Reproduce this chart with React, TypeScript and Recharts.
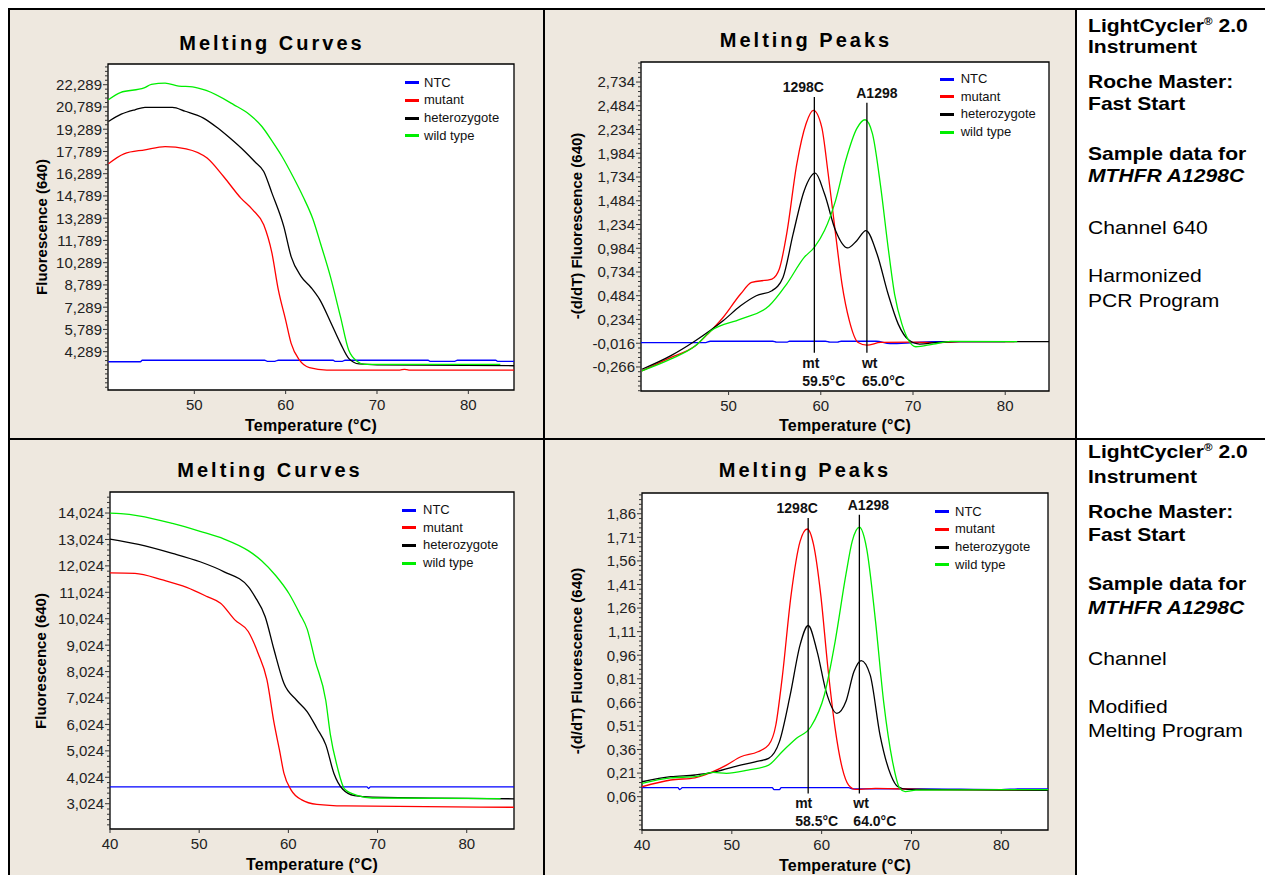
import React from "react";
import {
  LineChart,
  Line,
  XAxis,
  YAxis,
  CartesianGrid,
  ReferenceArea,
  ReferenceLine,
} from "recharts";

type Pt = [number, number];

const FONT = "'Liberation Sans', Arial, Helvetica, sans-serif";
const BEIGE = "#eee8df";

const seriesNames = ["NTC", "mutant", "heterozygote", "wild type"];
const seriesColors = ["#0000ff", "#ff0000", "#000000", "#00ee00"];

// row 1 - harmonized PCR program, melting curves: [temperature, fluorescence]
const hpCurveNtc: Pt[] = [
  [40.6, 3.61], [44.1, 3.61], [44.3, 3.71], [57.7, 3.71], [58, 3.64], [58.8, 3.64],
  [59.2, 3.71], [65.2, 3.71], [65.4, 3.64], [66.2, 3.64], [66.5, 3.71], [75.6, 3.71],
  [75.8, 3.64], [78.5, 3.64], [78.8, 3.71], [83, 3.71], [83.2, 3.64], [85, 3.64],
];
const hpCurveMut: Pt[] = [
  [40.6, 16.96], [42.3, 17.63], [44.6, 17.9], [46.8, 18.12], [49.1, 17.97], [51.4, 17.34],
  [53.2, 16.1], [55.1, 14.64], [56.4, 13.85], [57.6, 12.84], [58.5, 10.93], [59.2, 8.45],
  [60.0, 6.42], [60.6, 4.85], [61.5, 3.73], [62.6, 3.21], [64.5, 3.05], [72.5, 3.05],
  [73, 3.1], [73.5, 3.05], [85, 3.05],
];
const hpCurveHet: Pt[] = [
  [40.6, 19.81], [42, 20.3], [43.5, 20.6], [44.6, 20.76], [47.6, 20.76], [49, 20.5],
  [51, 20.04], [52.5, 19.4], [53.9, 18.69], [55.5, 17.8], [56.6, 17.11], [57.6, 16.44],
  [58.5, 14.98], [59.8, 12.72], [60.6, 10.7], [61.7, 9.35], [62.8, 8.6], [63.75, 7.78],
  [64.9, 6.31], [66.0, 4.85], [66.9, 3.84], [68.05, 3.46], [70, 3.4], [85, 3.34],
];
const hpCurveWt: Pt[] = [
  [40.6, 21.28], [41.9, 21.76], [44.5, 22.07], [45.3, 22.31], [46.8, 22.4], [48.3, 22.2],
  [49.8, 22.15], [51.3, 21.9], [54.3, 20.95], [56, 20.3], [57.4, 19.47], [58.5, 18.5],
  [59.6, 17.45], [60.8, 16.1], [61.9, 14.75], [63, 13.2], [63.8, 11.62], [64.9, 9.35],
  [66.0, 6.65], [66.9, 4.4], [67.9, 3.61], [68.6, 3.43], [75, 3.43], [83.5, 3.43],
];

// row 1 - melting peaks: [temperature, -(d/dT) fluorescence]
const hpPeakNtc: Pt[] = [
  [40.5, -0.01], [47.5, -0.01], [48, 0.005], [54.8, 0.005], [55.2, -0.005], [56.3, -0.005],
  [56.6, 0.005], [60.5, 0.005], [61, -0.005], [61.8, -0.005], [62.2, 0.005], [66, 0.005],
  [67.5, -0.02], [70, -0.01], [72, 0], [80, 0],
];
const hpPeakMut: Pt[] = [
  [40.6, -0.307], [43.7, -0.167], [46.4, -0.043], [47.9, 0.097], [49.4, 0.255], [51.3, 0.502],
  [52.5, 0.624], [54.7, 0.66], [55.5, 0.766], [56.3, 1.135], [57.4, 1.873], [58.4, 2.295],
  [59.2, 2.435], [60.1, 2.26], [60.8, 1.768], [61.6, 1.135], [62.3, 0.607], [63.1, 0.22],
  [64.05, -0.008], [65.0, -0.036], [66.5, -0.008], [70, -0.005], [73, -0.01], [75, 0], [81, 0],
];
const hpPeakHet: Pt[] = [
  [40.6, -0.29], [43.7, -0.149], [46.4, 0.01], [49.4, 0.22], [51.3, 0.378], [53.0, 0.484],
  [54.7, 0.537], [55.9, 0.677], [57.0, 1.135], [58.2, 1.59], [59.4, 1.774], [60.4, 1.557],
  [61.6, 1.17], [62.9, 0.987], [63.9, 1.064], [64.9, 1.17], [66.1, 0.924], [67.3, 0.502],
  [68.4, 0.185], [69.55, 0.017], [70.7, -0.025], [72.6, -0.008], [75, 0], [84.75, 0],
];
const hpPeakWt: Pt[] = [
  [40.6, -0.307], [43.7, -0.184], [46.4, -0.043], [48.1, 0.115], [51.3, 0.237], [54.4, 0.378],
  [56.3, 0.607], [58.2, 0.888], [59.3, 0.994], [60.4, 1.17], [61.6, 1.486], [62.7, 1.908],
  [63.9, 2.243], [64.8, 2.337], [65.6, 2.19], [66.5, 1.627], [67.3, 0.994], [68.0, 0.502],
  [68.8, 0.185], [69.55, 0.01], [70.3, -0.053], [72.2, -0.025], [74.1, 0.003], [81.3, 0],
];

// row 2 - modified melting program, melting curves
const mmCurveNtc: Pt[] = [[40, 3.66], [68.8, 3.66], [69, 3.6], [69.2, 3.66], [85.3, 3.66]];
const mmCurveMut: Pt[] = [
  [40, 11.76], [42.8, 11.74], [45.9, 11.49], [48.6, 11.21], [50.9, 10.86], [52.4, 10.61],
  [54.0, 9.98], [55.5, 9.54], [56.6, 8.72], [57.6, 7.71], [58.4, 6.07], [59.0, 5.06],
  [59.5, 4.18], [60.3, 3.55], [61.5, 3.17], [63.2, 3.0], [66.3, 2.94], [85.3, 2.89],
];
const mmCurveHet: Pt[] = [
  [40, 13.04], [43.2, 12.84], [47.0, 12.5], [50.1, 12.18], [52.8, 11.8], [55.5, 11.24],
  [56.25, 10.86], [57.4, 10.1], [58.4, 8.84], [59.5, 7.58], [60.9, 6.95], [62.1, 6.51],
  [63.2, 5.88], [64.2, 5.25], [65.1, 4.18], [66.1, 3.57], [67.4, 3.33], [69.4, 3.27], [85.3, 3.21],
];
const mmCurveWt: Pt[] = [
  [40, 14.02], [41.2, 14.0], [43.2, 13.92], [47.0, 13.63], [50.1, 13.33], [52.8, 13.04],
  [55.5, 12.6], [57.0, 12.22], [58.6, 11.65], [60.1, 10.96], [61.3, 10.2], [62.1, 9.64],
  [63.0, 8.44], [64.2, 6.92], [64.7, 5.66], [65.5, 4.4], [66.3, 3.58], [67.8, 3.33],
  [69.4, 3.24], [83.8, 3.22],
];

// row 2 - melting peaks
const mmPeakNtc: Pt[] = [
  [40, 0.117], [44, 0.117], [44.2, 0.105], [44.5, 0.117], [54.5, 0.117], [54.7, 0.105],
  [55.3, 0.105], [55.5, 0.117], [63, 0.117], [63.5, 0.11], [71, 0.11], [80, 0.105],
  [82, 0.11], [85.2, 0.11],
];
const mmPeakMut: Pt[] = [
  [40, 0.123], [43.2, 0.166], [45.9, 0.18], [47.9, 0.219], [49.4, 0.261], [51.0, 0.314],
  [52.9, 0.346], [54.1, 0.389], [54.9, 0.516], [55.6, 0.813], [56.6, 1.344], [57.6, 1.684],
  [58.4, 1.763], [59.1, 1.663], [59.9, 1.344], [60.7, 0.877], [61.5, 0.495], [62.3, 0.24],
  [63.0, 0.134], [63.8, 0.106], [66, 0.113], [72, 0.105], [85.2, 0.1],
];
const mmPeakHet: Pt[] = [
  [40, 0.155], [43.2, 0.187], [45.9, 0.198], [47.9, 0.214], [50.2, 0.25], [52.6, 0.282],
  [54.1, 0.304], [55.3, 0.41], [56.5, 0.707], [57.6, 1.026], [58.5, 1.149], [59.5, 0.983],
  [60.5, 0.728], [61.7, 0.59], [62.7, 0.665], [63.6, 0.856], [64.4, 0.926], [65.4, 0.835],
  [66.5, 0.452], [67.7, 0.198], [68.5, 0.123], [69.6, 0.106], [85.2, 0.1],
];
const mmPeakWt: Pt[] = [
  [40, 0.145], [43.2, 0.18], [45.9, 0.187], [47.9, 0.214], [49.4, 0.208], [51.8, 0.229],
  [54.1, 0.261], [55.6, 0.346], [57.2, 0.431], [58.8, 0.505], [60.3, 0.707], [61.5, 1.047],
  [62.7, 1.472], [63.4, 1.684], [64.2, 1.774], [65.0, 1.642], [66.0, 1.175], [66.9, 0.665],
  [67.9, 0.282], [68.7, 0.113], [69.3, 0.092], [70.5, 0.102], [85.2, 0.105],
];

// axis ticks
const xTicksTop = [50, 60, 70, 80];
const xTicksBottom = [40, 50, 60, 70, 80];
const hpCurveTicks = [4.289, 5.789, 7.289, 8.789, 10.289, 11.789, 13.289, 14.789, 16.289, 17.789, 19.289, 20.789, 22.289];
const hpPeakTicks = [-0.266, -0.016, 0.234, 0.484, 0.734, 0.984, 1.234, 1.484, 1.734, 1.984, 2.234, 2.484, 2.734];
const mmCurveTicks = [3.024, 4.024, 5.024, 6.024, 7.024, 8.024, 9.024, 10.024, 11.024, 12.024, 13.024, 14.024];
const mmPeakTicks = [0.06, 0.21, 0.36, 0.51, 0.66, 0.81, 0.96, 1.11, 1.26, 1.41, 1.56, 1.71, 1.86];

// text column
const infoTop = ["LightCycler® 2.0", "Instrument", "Roche Master:", "Fast Start", "Sample data for", "MTHFR A1298C", "Channel 640", "Harmonized", "PCR Program"];
const infoBottom = ["LightCycler® 2.0", "Instrument", "Roche Master:", "Fast Start", "Sample data for", "MTHFR A1298C", "Channel", "Modified", "Melting Program"];
const infoStyle = ["b", "b", "b", "b", "b", "bi", "r", "r", "r"];
const infoTopY = [26, 47, 82, 104, 154, 176, 228, 276, 301];
const infoBottomY = [452, 477, 512, 535, 584, 608, 659, 707, 731];

interface Peak {
  x: number; y0: number; y1: number;
  top: string; lower: string; temp: string;
  dxTop: number; dxLow: number;
}

interface PanelProps {
  x: number; y: number; w: number; h: number;
  margin: { top: number; right: number; bottom: number; left: number };
  yWidth: number;
  title: string; titleAt: [number, number];
  xLabelAt: [number, number];
  yLabel: string; yLabelAt: [number, number];
  xDomain: [number, number]; xTicks: number[];
  yDomain: [number, number]; yTicks: number[]; decimals: number;
  series: Pt[][];
  legendAt: [number, number, number];
  peaks?: Peak[];
}

function withMinor(majors: number[], dom: [number, number], sub: number) {
  const step = (majors[1] - majors[0]) / sub;
  const out: number[] = [];
  const k0 = Math.ceil((dom[0] - majors[0]) / step - 1e-9);
  const k1 = Math.floor((dom[1] - majors[0]) / step + 1e-9);
  for (let k = k0; k <= k1; k++) out.push(Math.round((majors[0] + k * step) * 1e6) / 1e6);
  return out;
}

const makeYTick = (majors: number[], decimals: number) => (p: any) => {
  const v = p.payload.value as number;
  const major = majors.some((m) => Math.abs(m - v) < 1e-4);
  return (
    <g>
      <line x1={p.x - (major ? 5 : 3)} x2={p.x} y1={p.y} y2={p.y} stroke="#333" />
      {major && (
        <text x={p.x - 6} y={p.y} dy="0.36em" textAnchor="end" fontSize={15} fontFamily={FONT} fill="#222">
          {v.toFixed(decimals).replace(".", ",")}
        </text>
      )}
    </g>
  );
};

const peakLabel = (pk: Peak) => (props: any) => {
  const vb = props.viewBox || {};
  const x = vb.x ?? 0;
  const y = vb.y ?? 0;
  const h = vb.height ?? 0;
  return (
    <g fontFamily={FONT} fontWeight="bold" fontSize={14} fill="#111">
      <text x={x + pk.dxTop} y={y - 5} textAnchor="middle">{pk.top}</text>
      <text x={x + pk.dxLow} y={y + h + 15}>{pk.lower}</text>
      <text x={x + pk.dxLow} y={y + h + 33}>{pk.temp}</text>
    </g>
  );
};

const centered = (cx: number, cy: number, extra?: React.CSSProperties): React.CSSProperties => ({
  position: "absolute",
  left: cx,
  top: cy,
  transform: "translate(-50%, -50%)",
  whiteSpace: "nowrap",
  lineHeight: 1,
  fontFamily: FONT,
  ...extra,
});

function Panel(props: PanelProps) {
  const { x, y, w, h, xDomain, yDomain, yTicks, decimals, legendAt } = props;
  return (
    <div style={{ position: "absolute", left: x, top: y, width: w, height: h }}>
      <div style={centered(props.titleAt[0], props.titleAt[1], { fontSize: 20, fontWeight: "bold", letterSpacing: 3 })}>
        {props.title}
      </div>
      <LineChart width={w} height={h} margin={props.margin}>
        <CartesianGrid horizontal={false} vertical={false} fill="#ffffff" fillOpacity={1} />
        <XAxis
          type="number"
          dataKey="t"
          domain={xDomain}
          ticks={props.xTicks}
          allowDataOverflow
          interval={0}
          height={30}
          axisLine={false}
          tickSize={4}
          tickMargin={5}
          tickLine={{ stroke: "#333" }}
          tick={{ fontSize: 15, fontFamily: FONT, fill: "#222" }}
        />
        <YAxis
          type="number"
          domain={yDomain}
          ticks={withMinor(yTicks, yDomain, 5)}
          allowDataOverflow
          interval={0}
          width={props.yWidth}
          axisLine={false}
          tickLine={false}
          tickSize={0}
          tickMargin={0}
          tick={makeYTick(yTicks, decimals)}
        />
        {props.series.map((pts, i) => (
          <Line
            key={seriesNames[i]}
            data={pts.map(([t, v]) => ({ t, v }))}
            dataKey="v"
            type="monotone"
            stroke={seriesColors[i]}
            strokeWidth={1.3}
            dot={false}
            isAnimationActive={false}
          />
        ))}
        {(props.peaks || []).map((pk) => (
          <ReferenceLine
            key={pk.top}
            segment={[{ x: pk.x, y: pk.y0 }, { x: pk.x, y: pk.y1 }]}
            stroke="#000"
            strokeWidth={1.3}
            label={peakLabel(pk)}
          />
        ))}
        <ReferenceArea
          x1={xDomain[0]}
          x2={xDomain[1]}
          y1={yDomain[0]}
          y2={yDomain[1]}
          fill="none"
          stroke="#000"
          strokeWidth={1.3}
          ifOverflow="visible"
        />
      </LineChart>
      <div style={centered(props.xLabelAt[0], props.xLabelAt[1], { fontSize: 16, fontWeight: "bold", letterSpacing: 0.2 })}>
        Temperature (°C)
      </div>
      <div
        style={centered(props.yLabelAt[0], props.yLabelAt[1], {
          fontSize: 15,
          fontWeight: "bold",
          transform: "translate(-50%, -50%) rotate(-90deg)",
        })}
      >
        {props.yLabel}
      </div>
      {seriesNames.map((name, i) => (
        <React.Fragment key={name}>
          <div
            style={{
              position: "absolute",
              left: legendAt[0],
              top: legendAt[2] + i * 17.7 - 1.5,
              width: 14,
              height: 3,
              background: seriesColors[i],
            }}
          />
          <div
            style={{
              position: "absolute",
              left: legendAt[1],
              top: legendAt[2] + i * 17.7 - 7,
              fontSize: 13,
              lineHeight: "14px",
              fontFamily: FONT,
              color: "#111",
              whiteSpace: "nowrap",
            }}
          >
            {name}
          </div>
        </React.Fragment>
      ))}
    </div>
  );
}

function InfoColumn({ lines, ys }: { lines: string[]; ys: number[] }) {
  return (
    <>
      {lines.map((text, i) => {
        const st = infoStyle[i];
        const parts = text.split("®");
        return (
          <div
            key={i}
            style={{
              position: "absolute",
              left: 1088,
              top: ys[i] - 10,
              fontFamily: FONT,
              fontSize: 18.5,
              lineHeight: "20px",
              fontWeight: st === "r" ? "normal" : "bold",
              fontStyle: st === "bi" ? "italic" : "normal",
              whiteSpace: "nowrap",
              transform: "scaleX(1.14)",
              transformOrigin: "left center",
              color: "#000",
            }}
          >
            {parts[0]}
            {parts.length > 1 && (
              <>
                <sup style={{ fontSize: "0.55em", lineHeight: 0 }}>®</sup>
                {parts[1]}
              </>
            )}
          </div>
        );
      })}
    </>
  );
}

const rect = (l: number, t: number, w: number, h: number, bg: string): React.CSSProperties => ({
  position: "absolute",
  left: l,
  top: t,
  width: w,
  height: h,
  background: bg,
});

export default function App() {
  return (
    <div
      style={{
        position: "fixed",
        left: 0,
        top: 0,
        width: 1265,
        height: 875,
        overflow: "hidden",
        background: "#ffffff",
      }}
    >
      <div style={rect(10, 10, 533, 428, BEIGE)} />
      <div style={rect(545, 10, 530, 428, BEIGE)} />
      <div style={rect(10, 440, 533, 435, BEIGE)} />
      <div style={rect(545, 440, 530, 435, BEIGE)} />

      <Panel
        x={10} y={10} w={533} h={428}
        margin={{ top: 54, right: 29, bottom: 18, left: 0 }}
        yWidth={98}
        title="Melting Curves" titleAt={[262, 33]}
        xLabelAt={[301, 416]}
        yLabel="Fluorescence (640)" yLabelAt={[31, 217]}
        xDomain={[40.55, 85]} xTicks={xTicksTop}
        yDomain={[1.704, 23.686]} yTicks={hpCurveTicks} decimals={3}
        series={[hpCurveNtc, hpCurveMut, hpCurveHet, hpCurveWt]}
        legendAt={[395, 414, 72.7]}
      />
      <Panel
        x={545} y={10} w={530} h={428}
        margin={{ top: 52, right: 26, bottom: 17, left: 0 }}
        yWidth={96}
        title="Melting Peaks" titleAt={[261, 30]}
        xLabelAt={[300, 416]}
        yLabel="-(d/dT) Fluorescence (640)" yLabelAt={[30.6, 216]}
        xDomain={[40.5, 84.75]} xTicks={xTicksTop}
        yDomain={[-0.519, 2.945]} yTicks={hpPeakTicks} decimals={3}
        series={[hpPeakNtc, hpPeakMut, hpPeakHet, hpPeakWt]}
        legendAt={[395.4, 415.7, 69]}
        peaks={[
          { x: 59.3, y0: -0.115, y1: 2.576, top: "1298C", lower: "mt", temp: "59.5°C", dxTop: -11, dxLow: -12 },
          { x: 65.0, y0: -0.115, y1: 2.517, top: "A1298", lower: "wt", temp: "65.0°C", dxTop: 10, dxLow: -5 },
        ]}
      />
      <Panel
        x={10} y={440} w={533} h={435}
        margin={{ top: 52, right: 29, bottom: 16, left: 0 }}
        yWidth={100}
        title="Melting Curves" titleAt={[260, 30]}
        xLabelAt={[302, 425]}
        yLabel="Fluorescence (640)" yLabelAt={[29.6, 221]}
        xDomain={[40, 85.3]} xTicks={xTicksBottom}
        yDomain={[2.067, 14.82]} yTicks={mmCurveTicks} decimals={3}
        series={[mmCurveNtc, mmCurveMut, mmCurveHet, mmCurveWt]}
        legendAt={[392, 413, 70]}
      />
      <Panel
        x={545} y={440} w={530} h={435}
        margin={{ top: 53, right: 27, bottom: 15, left: 0 }}
        yWidth={97}
        title="Melting Peaks" titleAt={[260, 30]}
        xLabelAt={[300, 425.7]}
        yLabel="-(d/dT) Fluorescence (640)" yLabelAt={[30.6, 221]}
        xDomain={[40, 85.2]} xTicks={xTicksBottom}
        yDomain={[-0.152, 1.992]} yTicks={mmPeakTicks} decimals={2}
        series={[mmPeakNtc, mmPeakMut, mmPeakHet, mmPeakWt]}
        legendAt={[390, 410, 71.7]}
        peaks={[
          { x: 58.5, y0: 0.081, y1: 1.833, top: "1298C", lower: "mt", temp: "58.5°C", dxTop: -11, dxLow: -13 },
          { x: 64.2, y0: 0.081, y1: 1.854, top: "A1298", lower: "wt", temp: "64.0°C", dxTop: 9, dxLow: -6 },
        ]}
      />

      <InfoColumn lines={infoTop} ys={infoTopY} />
      <InfoColumn lines={infoBottom} ys={infoBottomY} />

      <div style={rect(8, 8, 2, 867, "#000")} />
      <div style={rect(8, 8, 1257, 2, "#000")} />
      <div style={rect(543, 8, 2, 867, "#000")} />
      <div style={rect(1075, 8, 2, 867, "#000")} />
      <div style={rect(8, 438, 1257, 2, "#000")} />
    </div>
  );
}
